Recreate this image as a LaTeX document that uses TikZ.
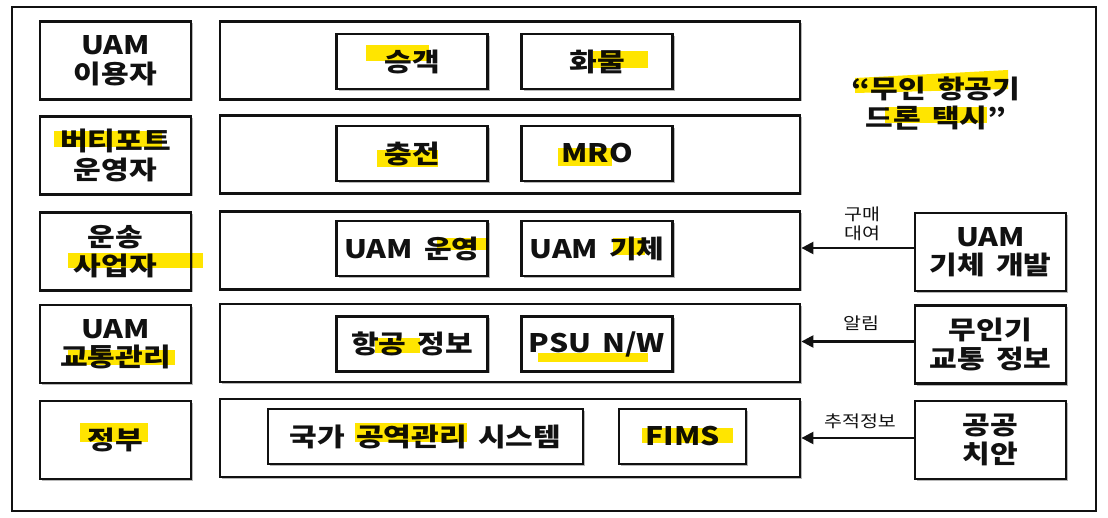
\documentclass[tikz,border=0pt]{standalone}
\usepackage{fontspec}
\setmainfont{Noto Sans CJK KR}
\newfontfamily\widefam{Noto Sans CJK KR}[FakeStretch=1.18,WordSpace=1.6]
\usepackage{xcolor}
\usetikzlibrary{arrows.meta,shadows}
\definecolor{ink}{HTML}{111111}
\definecolor{marker}{HTML}{FFE500}
\newcommand{\boxfont}{\widefam\fontsize{25.5}{28.5}\selectfont\bfseries}
\newcommand{\tagfont}{\widefam\fontsize{16.5}{19}\selectfont}

\begin{document}
\begin{tikzpicture}[x=1pt,y=-1pt,
    softshadow/.style={drop shadow={shadow xshift=2pt,shadow yshift=-2pt,fill=black,opacity=0.28}},
    roleBox/.style={draw=ink,line width=2.8pt,fill=white,softshadow,minimum width=151pt,minimum height=78pt,align=center,font=\boxfont,text=ink},
    layerBox/.style={draw=ink,line width=2.8pt,fill=white,softshadow,minimum width=580pt,minimum height=78pt},
    itemBox/.style={draw=ink,line width=2.8pt,fill=white,softshadow,minimum width=151pt,minimum height=55pt,align=center,font=\boxfont,text=ink},
    flowArrow/.style={draw=ink,line width=2.4pt,-{Triangle[length=12pt,width=12pt]}},
    flowTag/.style={align=center,font=\tagfont,text=ink,inner sep=0pt},
    highlight/.style={fill=marker,blend mode=multiply}
]
\useasboundingbox (0,0) rectangle (1108,518);
\draw[ink,line width=1.3pt] (12,7) rectangle (1096,511);

% left column
\node[roleBox] (user) at (115.5,60.5) {UAM\\이용자};
\node[roleBox] (port) at (115.5,155.5) {버티포트\\운영자};
\node[roleBox] (carrier) at (115.5,251.5) {운송\\사업자};
\node[roleBox] (traffic) at (115.5,344) {UAM\\교통관리};
\node[roleBox] (gov) at (115.5,440) {정부};

% middle layers
\node[layerBox] (svcRow) at (510,60.5) {};
\node[layerBox] (mroRow) at (510,154.5) {};
\node[layerBox] (opsRow) at (510,250.5) {};
\node[layerBox] (infoRow) at (510,343) {};
\node[layerBox] (govRow) at (510,438) {};

\node[itemBox] (pass) at (412,61.5) {승객};
\node[itemBox] (cargo) at (597,61.5) {화물};
\node[itemBox] (charge) at (412,153.5) {충전};
\node[itemBox] (mro) at (597,153.5) {MRO};
\node[itemBox] (ops) at (412,248.5) {UAM 운영};
\node[itemBox] (body) at (597,248.5) {UAM 기체};
\node[itemBox] (aero) at (412,344) {항공 정보};
\node[itemBox] (psu) at (597,344) {PSU N/W};
\node[itemBox,minimum width=315pt] (airspace) at (425.5,436.5) {국가 공역관리 시스템};
\node[itemBox,minimum width=127pt] (fims) at (682.5,436.5) {FIMS};

% right column
\node[roleBox] (maker) at (990.5,252) {UAM\\기체 개발};
\node[roleBox] (uavInfo) at (990.5,344.5) {무인기\\교통 정보};
\node[roleBox] (police) at (990.5,440) {공공\\치안};

\node[align=center,font=\boxfont,text=ink] (slogan) at (936,103.5) {“무인 항공기\\드론 택시”};

% flows
\draw[flowArrow] ([yshift=4pt]maker.west) -- ([yshift=4pt]maker.west -| opsRow.east);
\draw[flowArrow] ([yshift=3pt]uavInfo.west) -- ([yshift=3pt]uavInfo.west -| infoRow.east);
\draw[flowArrow] ([yshift=2pt]police.west) -- ([yshift=2pt]police.west -| govRow.east);
\node[flowTag] (buyTag) at (862,224) {구매\\대여};
\node[flowTag] (alertTag) at (861,323) {알림};
\node[flowTag] (trackTag) at (860,421) {추적정보};

% highlighter marks
\fill[highlight] (366,45) rectangle (429,61);
\fill[highlight] (593,51) rectangle (648,68);
\fill[highlight] (54,131) rectangle (162,147);
\fill[highlight] (377,150) rectangle (438,167);
\fill[highlight] (558,148) rectangle (612,166);
\fill[highlight] (855,78) -- (1008,70) -- (1008,89) -- (855,93) -- cycle;
\fill[highlight] (885,107) rectangle (987,123);
\fill[highlight] (437,238) rectangle (488,250);
\fill[highlight] (68,253) rectangle (203,268);
\fill[highlight] (613,238) rectangle (645,255);
\fill[highlight] (68,350) rectangle (175,365);
\fill[highlight] (375,338) rectangle (420,353);
\fill[highlight] (538,353) rectangle (648,362);
\fill[highlight] (80,423) rectangle (148,442);
\fill[highlight] (355,423) rectangle (467,442);
\fill[highlight] (642,428) rectangle (733,443);
\end{tikzpicture}
\end{document}
